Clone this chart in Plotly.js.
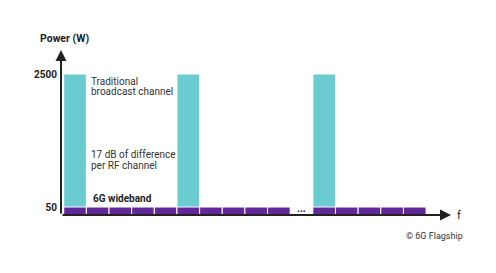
<!DOCTYPE html>
<html>
<head>
<meta charset="utf-8">
<script src="https://cdn.plot.ly/plotly-3.0.1.min.js"></script>
<style>html,body{margin:0;padding:0;background:#fff;}#chart{width:496px;height:273px;}</style>
</head>
<body>
<div id="chart"></div>
<script>
// Frequency slots (slot 10 is the "..." gap)
const widebandSlots = [0,1,2,3,4,5,6,7,8,9,11,12,13,14,15];
const widebandPower = [50,50,50,50,50,50,50,50,50,50,50,50,50,50,50];
const broadcastSlots = [0,5,11];
const broadcastPower = [2500,2500,2500];
const yTickVals = [50,2500];
const yTickText = ['50','2500'];

const FONT = 'Roboto, "Noto Sans", sans-serif';
const CYAN = '#6ACBD1';
const PURPLE = '#62289A';
const TXT = '#333333';

const traces = [
  {type:'bar', x:broadcastSlots, y:broadcastPower, width:1,
   marker:{color:CYAN, line:{color:'#ffffff', width:1}}, hoverinfo:'skip'},
  {type:'bar', x:widebandSlots, y:widebandPower, width:1,
   marker:{color:PURPLE, line:{color:'#ffffff', width:1}}, hoverinfo:'skip'}
];

function txt(text, x, y, opts) {
  return Object.assign({text:text, x:x, y:y, xref:'x', yref:'paper', showarrow:false,
    xanchor:'left', yanchor:'middle', font:{family:FONT, size:10, color:TXT}}, opts||{});
}

const annotations = [
  // axes arrows
  {x:1, y:0, xref:'paper', yref:'paper', ax:-390, ay:0, axref:'pixel', ayref:'pixel',
   showarrow:true, arrowhead:2, arrowsize:1.1, arrowwidth:2, arrowcolor:'#222', text:''},
  {x:0, y:1, xref:'paper', yref:'paper', ax:0, ay:165, axref:'pixel', ayref:'pixel',
   showarrow:true, arrowhead:2, arrowsize:1.1, arrowwidth:2, arrowcolor:'#222', text:''},
  txt('Traditional', 0.62, 0.812),
  txt('broadcast channel', 0.62, 0.747),
  txt('17 dB of difference', 0.62, 0.368),
  txt('per RF channel', 0.62, 0.299),
  txt('<b>6G wideband</b>', 0.7, 0.097, {font:{family:FONT, size:10, color:'#222'}}),
  txt('<b>...</b>', 10, 0.04, {xanchor:'center', font:{family:FONT, size:10, color:'#222'}}),
  {text:'<b>Power (W)</b>', x:0.009, y:1.067, xref:'paper', yref:'paper', showarrow:false,
   xanchor:'center', yanchor:'middle', font:{family:FONT, size:10.5, color:'#222'}},
  {text:'f', x:1.0195, y:-0.004, xref:'paper', yref:'paper', showarrow:false,
   xanchor:'center', yanchor:'middle', font:{family:FONT, size:11, color:'#222'}},
  {text:'© 6G Flagship', x:0.958, y:-0.125, xref:'paper', yref:'paper', showarrow:false,
   xanchor:'center', yanchor:'middle', font:{family:FONT, size:9, color:TXT}}
];

const layout = {
  width:496, height:273,
  margin:{l:61, r:45, t:50, b:58, pad:0},
  paper_bgcolor:'#ffffff', plot_bgcolor:'#ffffff',
  showlegend:false, barmode:'overlay', bargap:0,
  xaxis:{range:[-0.62,16.6], showgrid:false, zeroline:false, showline:false,
         showticklabels:false, ticks:'', fixedrange:true},
  yaxis:{type:'log', range:[1.597,3.705], showgrid:false, zeroline:false, showline:false,
         tickvals:yTickVals, ticktext:yTickText, ticks:'', ticklabelstandoff:3,
         tickfont:{family:FONT, size:10, color:'#222', weight:'bold'}, fixedrange:true},
  annotations:annotations
};

Plotly.newPlot('chart', traces, layout, {staticPlot:true, displayModeBar:false});
</script>
</body>
</html>
